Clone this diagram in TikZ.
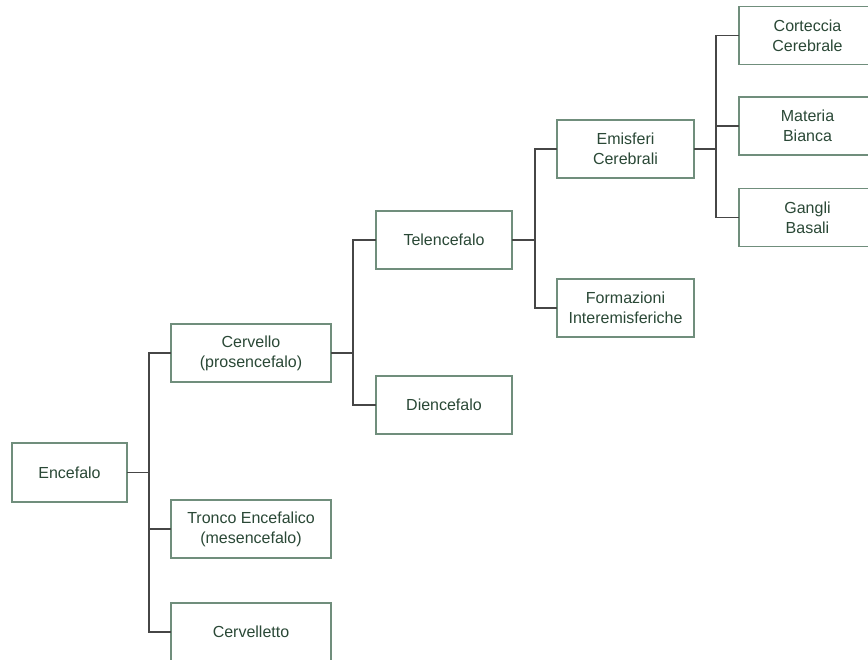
\documentclass[tikz,border=0pt]{standalone}
\usepackage{fontspec}
\setmainfont{Liberation Sans}
\usepackage{tikz}
\usetikzlibrary{positioning}
\definecolor{boxline}{RGB}{112,142,124}
\definecolor{boxtext}{RGB}{42,72,54}
\definecolor{linkline}{RGB}{70,70,70}
\tikzset{
	every node/.style={
		align=center,
	},
	box/.style={
		draw=boxline, line width=1.4pt, text=boxtext, fill=white,
		minimum height=58pt, inner sep=0pt, outer sep=0pt,
		font=\fontsize{16pt}{20pt}\selectfont,
	},
	link/.style={
		draw=linkline, line width=1.4pt,
	},
}

\begin{document}
\begin{tikzpicture}[x=1pt, y=-1pt]
        \useasboundingbox (0,0) rectangle (868,660);
        \clip (0,0) rectangle (868,660);
        \node[box, minimum width=115pt, minimum height=59pt] (encefalo) at (69.5,472.5) {Encefalo};
        \node[box, minimum width=160pt, right=44pt of encefalo, yshift=119.5pt] (cervello) {Cervello\\(prosencefalo)};
        \node[box, minimum width=160pt, right=44pt of encefalo, yshift=-56.5pt] (tronco) {Tronco Encefalico\\(mesencefalo)};
        \node[box, minimum width=160pt, right=44pt of encefalo, yshift=-159.5pt] (cervelletto) {Cervelletto};
        \node[box, minimum width=136pt, right=45pt of cervello, yshift=113pt] (telencefalo) {Telencefalo};
        \node[box, minimum width=136pt, right=45pt of cervello, yshift=-52pt] (diencefalo) {Diencefalo};
        \node[box, minimum width=137pt, right=45pt of telencefalo, yshift=91pt] (emisferi) {Emisferi\\Cerebrali};
        \node[box, minimum width=137pt, right=45pt of telencefalo, yshift=-68pt] (formazioni) {Formazioni\\Interemisferiche};
        \node[box, minimum width=137pt, right=45pt of emisferi, yshift=113.5pt] (corteccia) {Corteccia\\Cerebrale};
        \node[box, minimum width=137pt, right=45pt of emisferi, yshift=23pt] (materia) {Materia\\Bianca};
        \node[box, minimum width=137pt, right=45pt of emisferi, yshift=-68.5pt] (gangli) {Gangli\\Basali};
        % elbow connectors
        \draw[link] (encefalo.east) -- ++(22,0) |- (cervello.west);
        \draw[link] (encefalo.east) -- ++(22,0) |- (tronco.west);
        \draw[link] (encefalo.east) -- ++(22,0) |- (cervelletto.west);
        \draw[link] (cervello.east) -- ++(22,0) |- (telencefalo.west);
        \draw[link] (cervello.east) -- ++(22,0) |- (diencefalo.west);
        \draw[link] (telencefalo.east) -- ++(23,0) |- (emisferi.west);
        \draw[link] (telencefalo.east) -- ++(23,0) |- (formazioni.west);
        \draw[link] (emisferi.east) -- ++(22,0) |- (corteccia.west);
        \draw[link] (emisferi.east) -- ++(22,0) |- (materia.west);
        \draw[link] (emisferi.east) -- ++(22,0) |- (gangli.west);
        \end{tikzpicture}
\end{document}
